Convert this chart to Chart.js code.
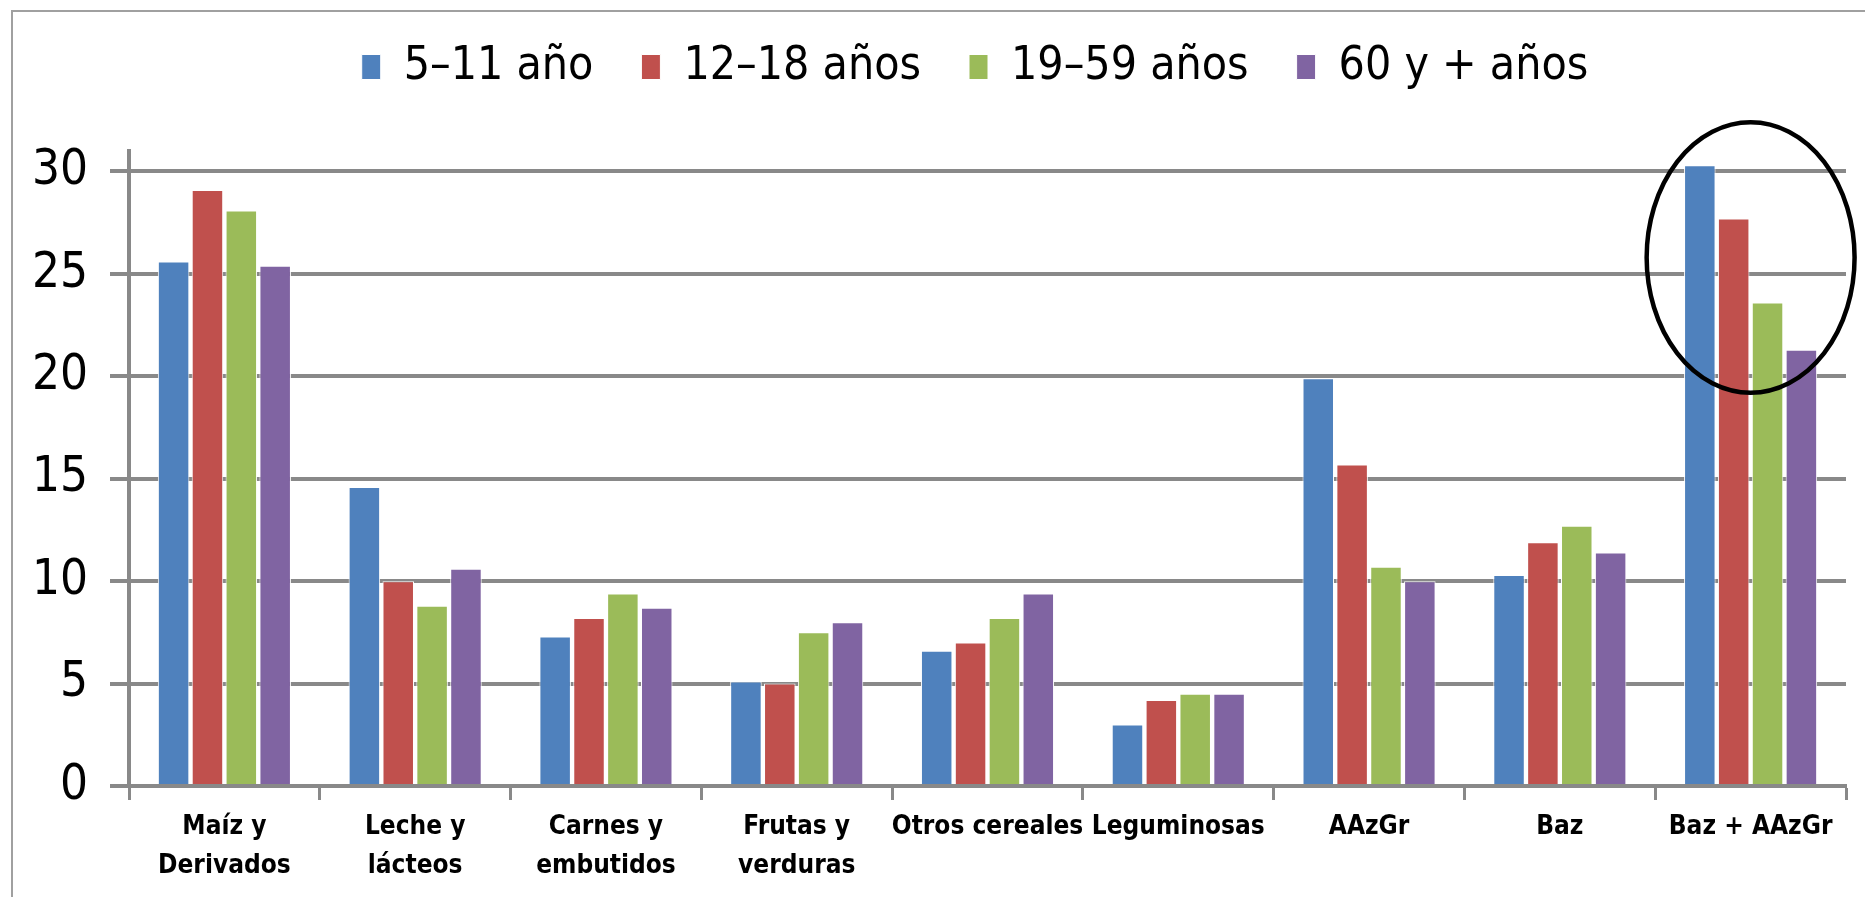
<!DOCTYPE html>
<html>
<head>
<meta charset="utf-8">
<script src="https://cdn.jsdelivr.net/npm/chart.js@4"></script>
<style>
  body { margin: 0; background: #fff; }
  #wrap { position: relative; width: 1865px; height: 897px; overflow: hidden; }
  #frame { position: absolute; left: 11px; top: 10px; width: 1900px; height: 950px; border: 2px solid #a0a0a0; box-sizing: border-box; }
</style>
</head>
<body>
<div id="wrap">
  <div id="frame"></div>
  <canvas id="barChart"></canvas>
</div>
<script>
// categories + series
const categories = [['Maíz y', 'Derivados'], ['Leche y', 'lácteos'], ['Carnes y', 'embutidos'], ['Frutas y', 'verduras'],
    'Otros cereales', 'Leguminosas', 'AAzGr', 'Baz', 'Baz + AAzGr'];
const seriesNames = ['5–11 año', '12–18 años', '19–59 años', '60 y + años'];
const age5to11 = [25.6, 14.6, 7.3, 5.1, 6.6, 3.0, 19.9, 10.3, 30.3];
const age12to18 = [29.1, 10.0, 8.2, 5.0, 7.0, 4.2, 15.7, 11.9, 27.7];
const age19to59 = [28.1, 8.8, 9.4, 7.5, 8.2, 4.5, 10.7, 12.7, 23.6];
const age60plus = [25.4, 10.6, 8.7, 8.0, 9.4, 4.5, 10.0, 11.4, 21.3];
const yTicks = [0, 5, 10, 15, 20, 25, 30];

// circled group (category index, value range it spans)
const highlightIndex = 8;
const highlightTop = 32.4;
const highlightBottom = 19.2;

const colors = ['#4F81BD', '#C0504D', '#9BBB59', '#8064A2'];
const gridGray = '#898989';

const ellipsePlugin = {
    id: 'highlightEllipse',
    afterDatasetsDraw(chart) {
        const x = chart.scales.x, y = chart.scales.y;
        const cx = x.getPixelForValue(highlightIndex);
        const top = y.getPixelForValue(highlightTop);
        const bottom = y.getPixelForValue(highlightBottom);
        const rx = 0.545 * x.width / categories.length;
        const ctx = chart.ctx;
        ctx.save();
        ctx.beginPath();
        ctx.ellipse(cx, (top + bottom) / 2, rx, (bottom - top) / 2, 0, 0, Math.PI * 2);
        ctx.lineWidth = 4.5;
        ctx.strokeStyle = '#000';
        ctx.stroke();
        ctx.restore();
    }
};

// legend: fixed block above the plot, nudged right like the original
const legendTweak = {
    id: 'legendTweak',
    beforeInit(chart) {
        const legend = chart.legend;
        const fit = legend.fit;
        legend.fit = function () {
            fit.bind(legend)();
            this.height = 151;
        };
        const draw = legend.draw;
        legend.draw = function () {
            const c = chart.ctx;
            c.save();
            c.translate(52, -4);
            draw.bind(legend)();
            c.restore();
        };
    }
};

const ctx = document.getElementById('barChart').getContext('2d');
const barChart = new Chart(ctx, {
    type: 'bar',
    data: {
        labels: categories,
        datasets: [age5to11, age12to18, age19to59, age60plus].map((d, i) => ({
            label: seriesNames[i],
            data: d,
            backgroundColor: colors[i],
            borderColor: '#ffffff',
            borderWidth: 1,
            barPercentage: 0.93,
            categoryPercentage: 0.71
        }))
    },
    options: {
        responsive: true,
        maintainAspectRatio: false,
        animation: false,
        layout: { padding: { right: 19, top: 0, bottom: 0, left: 0 } },
        plugins: {
            tooltip: { enabled: false },
            legend: {
                position: 'top',
                labels: {
                    color: '#000',
                    font: { family: "'DejaVu Sans Condensed', 'DejaVu Sans'", size: 46 },
                    boxWidth: 19,
                    boxHeight: 25,
                    padding: 48
                }
            }
        },
        scales: {
            x: {
                afterFit: s => { s.height = 111; },
                grid: {
                    offset: true,
                    drawOnChartArea: false,
                    drawTicks: true,
                    tickLength: 14,
                    tickWidth: 3,
                    tickColor: gridGray
                },
                border: { display: true, color: gridGray, width: 4 },
                ticks: {
                    color: '#000',
                    padding: 8,
                    maxRotation: 0,
                    autoSkip: false,
                    font: { family: "'DejaVu Sans Condensed', 'DejaVu Sans'", size: 26, weight: 'bold', lineHeight: 1.5 }
                }
            },
            y: {
                min: 0,
                max: 31,
                afterFit: s => { s.width = 129; },
                afterBuildTicks: axis => { axis.ticks = yTicks.map(v => ({ value: v })); },
                grid: { color: gridGray, lineWidth: 4, tickLength: 19, tickColor: gridGray },
                border: { display: true, color: gridGray, width: 4 },
                ticks: {
                    color: '#000',
                    padding: 22,
                    font: { family: "'DejaVu Sans Condensed', 'DejaVu Sans'", size: 49 }
                }
            }
        }
    },
    plugins: [ellipsePlugin, legendTweak]
});
</script>
</body>
</html>
